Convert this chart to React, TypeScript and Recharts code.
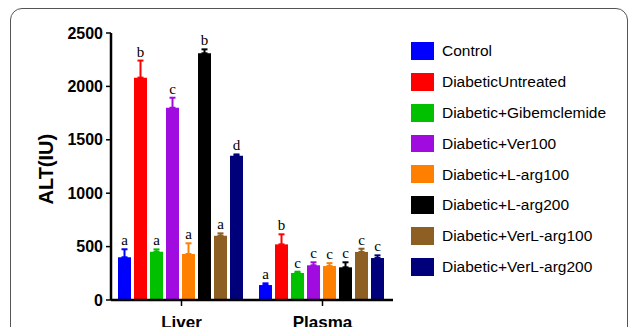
import React from 'react';
import { BarChart, Bar, XAxis, YAxis, ErrorBar, LabelList, Legend, Label } from 'recharts';

const categories = ['Liver', 'Plasma'];
const seriesNames = [
  'Control',
  'DiabeticUntreated',
  'Diabetic+Gibemclemide',
  'Diabetic+Ver100',
  'Diabetic+L-arg100',
  'Diabetic+L-arg200',
  'Diabetic+VerL-arg100',
  'Diabetic+VerL-arg200',
];
const seriesColors = ['#0000FF', '#FF0000', '#00C000', '#A00CE0', '#FF8000', '#000000', '#8E5F22', '#00007A'];

const control = [400, 140];
const untreated = [2082, 521];
const gibemclemide = [452, 253];
const ver100 = [1800, 325];
const larg100 = [431, 318];
const larg200 = [2310, 306];
const verLarg100 = [602, 450];
const verLarg200 = [1351, 393];

const controlErr = [75, 16];
const untreatedErr = [160, 94];
const gibemclemideErr = [22, 12];
const ver100Err = [94, 28];
const larg100Err = [100, 27];
const larg200Err = [37, 47];
const verLarg100Err = [22, 30];
const verLarg200Err = [12, 25];

const controlLetters = ['a', 'a'];
const untreatedLetters = ['b', 'b'];
const gibemclemideLetters = ['a', 'c'];
const ver100Letters = ['c', 'c'];
const larg100Letters = ['a', 'c'];
const larg200Letters = ['b', 'c'];
const verLarg100Letters = ['a', 'c'];
const verLarg200Letters = ['d', 'c'];

const yTicks = [0, 500, 1000, 1500, 2000, 2500];

const seriesValues = [control, untreated, gibemclemide, ver100, larg100, larg200, verLarg100, verLarg200];
const seriesErrors = [controlErr, untreatedErr, gibemclemideErr, ver100Err, larg100Err, larg200Err, verLarg100Err, verLarg200Err];
const seriesLetters = [
  controlLetters, untreatedLetters, gibemclemideLetters, ver100Letters,
  larg100Letters, larg200Letters, verLarg100Letters, verLarg200Letters,
];

const data = categories.map((cat, ci) => {
  const row: any = { cat };
  seriesValues.forEach((vals, si) => {
    row['s' + si] = vals[ci];
    row['e' + si] = [0, seriesErrors[si][ci]];
    row['l' + si] = seriesLetters[si][ci];
  });
  return row;
});

const SANS = 'Arial, "Liberation Sans", Helvetica, sans-serif';
const SERIF = '"Liberation Serif", "Times New Roman", serif';

const makeLetter = (si: number) => (props: any) => {
  const vb = props.viewBox && props.viewBox.width != null ? props.viewBox : props;
  const { x, y, width, height } = vb;
  const idx = props.index;
  const v = seriesValues[si][idx];
  const e = seriesErrors[si][idx];
  const h = Math.abs(height);
  const top = Math.min(y, y + height) - (v ? (e * h) / v : 0);
  return (
    <text x={x + width / 2} y={top - 4} textAnchor="middle" fontFamily={SERIF} fontSize={15} fill="#000">
      {seriesLetters[si][idx]}
    </text>
  );
};

const YLabel = (props: any) => {
  const vb = props.viewBox || { x: 51, y: 33, width: 60, height: 267 };
  const cx = vb.x - 5;
  const cy = vb.y + vb.height * 0.51;
  return (
    <text
      x={cx}
      y={cy}
      transform={`rotate(-90, ${cx}, ${cy})`}
      textAnchor="middle"
      dominantBaseline="central"
      fontFamily={SANS}
      fontWeight="bold"
      fontSize={20}
      fill="#000"
    >
      ALT(IU)
    </text>
  );
};

const LegendContent = () => (
  <div style={{ fontFamily: SANS, fontSize: 15.5, color: '#000' }}>
    {seriesNames.map((n, i) => (
      <div key={n} style={{ display: 'flex', alignItems: 'center', height: 30.8, lineHeight: 1 }}>
        <div style={{ width: 22.7, height: 17.7, background: seriesColors[i], marginRight: 8.3, flexShrink: 0 }} />
        <span style={{ whiteSpace: 'nowrap' }}>{n}</span>
      </div>
    ))}
  </div>
);

export default function App() {
  return (
    <div style={{ position: 'absolute', left: 0, top: 0, width: 629, height: 327, overflow: 'hidden', background: '#fff' }}>
      <div
        style={{
          position: 'absolute',
          left: 10,
          top: 8,
          width: 618,
          height: 400,
          border: '1.5px solid #555',
          borderRadius: 12,
          boxSizing: 'border-box',
        }}
      />
      <div style={{ position: 'absolute', left: 0, top: 0 }}>
        <BarChart
          width={629}
          height={327}
          data={data}
          margin={{ top: 33, right: 236, left: 51, bottom: 0 }}
          barCategoryGap={7}
          barGap={3}
        >
          <XAxis
            dataKey="cat"
            height={27}
            axisLine={{ stroke: '#000', strokeWidth: 2.5 }}
            tickLine={{ stroke: '#000', strokeWidth: 1.5 }}
            tickSize={6}
            tickMargin={10}
            tick={{ fill: '#000', fontFamily: SANS, fontWeight: 'bold', fontSize: 17 }}
          />
          <YAxis
            width={60}
            domain={[0, 2500]}
            ticks={yTicks}
            interval={0}
            axisLine={{ stroke: '#000', strokeWidth: 2.5 }}
            tickLine={{ stroke: '#000', strokeWidth: 1.5 }}
            tickSize={5}
            tickMargin={3}
            tick={{ fill: '#000', fontFamily: SANS, fontWeight: 'bold', fontSize: 16 }}
            label={<Label content={YLabel} />}
          />
          <Legend
            layout="vertical"
            align="center"
            verticalAlign="middle"
            content={LegendContent}
            wrapperStyle={{ left: 411, top: 35.75, width: 215 }}
          />
          {seriesNames.map((n, si) => (
            <Bar key={n} dataKey={'s' + si} name={n} fill={seriesColors[si]} isAnimationActive={false}>
              <ErrorBar dataKey={'e' + si} width={3} stroke={seriesColors[si]} strokeWidth={2} direction="y" />
              <LabelList dataKey={'l' + si} content={makeLetter(si)} />
            </Bar>
          ))}
        </BarChart>
      </div>
    </div>
  );
}
